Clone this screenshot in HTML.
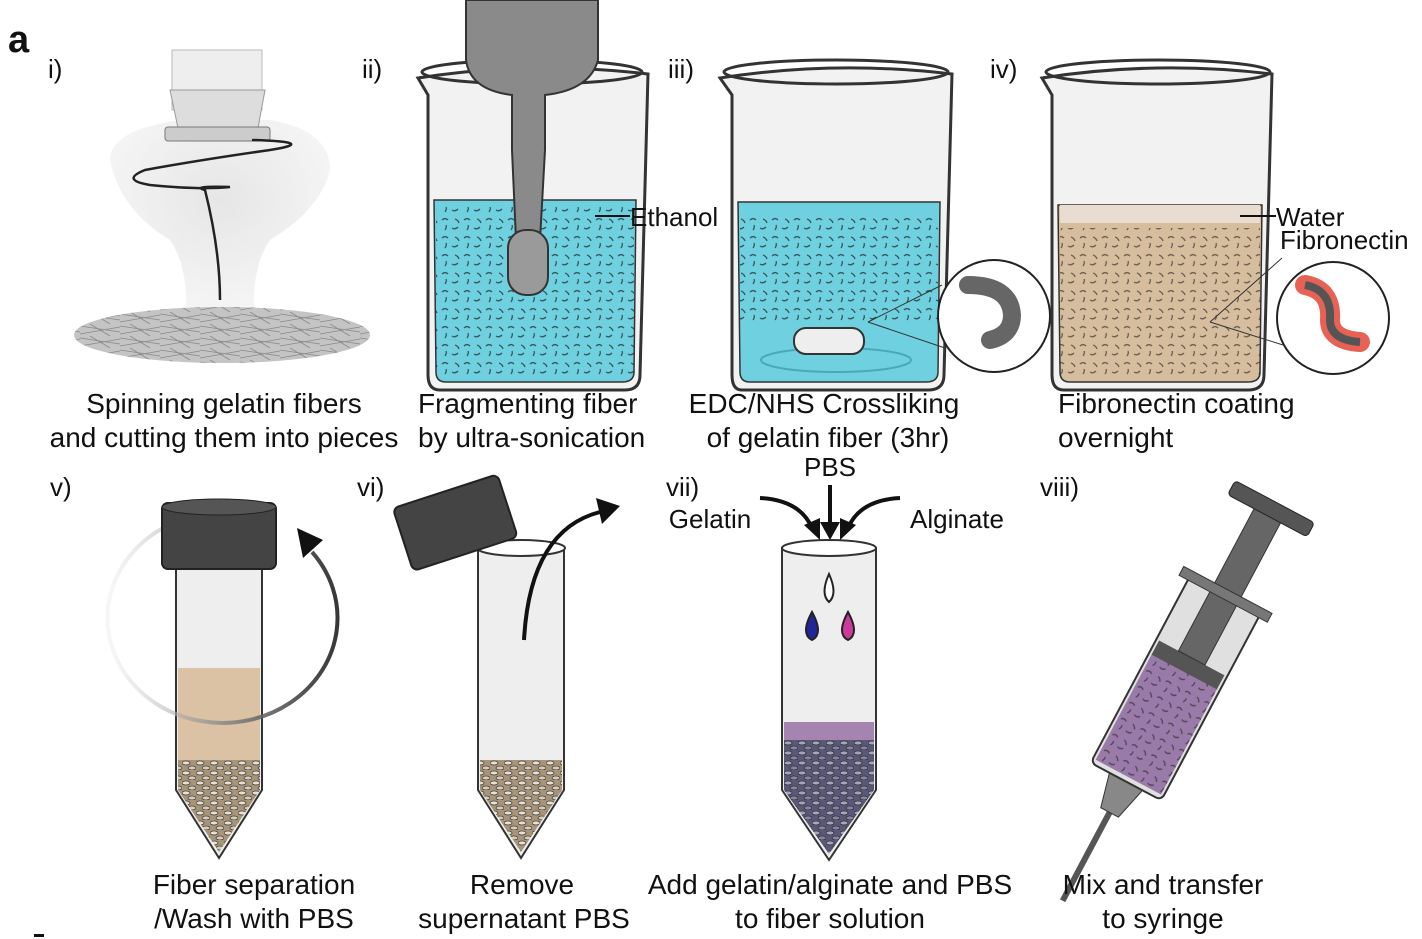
<!DOCTYPE html>
<html><head><meta charset="utf-8"><style>
html,body{margin:0;padding:0;background:#fff;}
svg{display:block;}
text{font-family:"Liberation Sans",Arial,sans-serif;fill:#111;}
</style></head><body>
<svg width="1422" height="939" viewBox="0 0 1422 939">
<defs>
<radialGradient id="glow" cx="0.5" cy="0.4" r="0.6"><stop offset="0" stop-color="#e6e6e6"/><stop offset="1" stop-color="#f6f6f6"/></radialGradient>
<linearGradient id="arcg" gradientUnits="userSpaceOnUse" x1="110" y1="0" x2="340" y2="0"><stop offset="0" stop-color="#ddd" stop-opacity="0.3"/><stop offset="0.5" stop-color="#888"/><stop offset="1" stop-color="#111"/></linearGradient>
<pattern id="fib" width="22" height="18" patternUnits="userSpaceOnUse"><path d="M2 4 q3 -3 6 0 M12 12 q3 2 6 -1 M5 14 q2 -3 1 -5 M15 3 q3 1 4 4" stroke="#222" stroke-width="1.3" fill="none"/></pattern>
<pattern id="hair" width="40" height="12" patternUnits="userSpaceOnUse"><path d="M0 2 L40 8 M0 10 L40 3 M10 0 L30 12" stroke="#888" stroke-width="0.8" fill="none"/></pattern>
<pattern id="chips" width="14" height="10" patternUnits="userSpaceOnUse"><rect width="14" height="10" fill="#a89478"/><ellipse cx="4" cy="3" rx="4" ry="2" fill="#e8e0d0" stroke="#444" stroke-width="0.8"/><ellipse cx="10" cy="8" rx="4" ry="2" fill="#d8ccb8" stroke="#444" stroke-width="0.8"/></pattern>
<pattern id="chipsp" width="14" height="10" patternUnits="userSpaceOnUse"><rect width="14" height="10" fill="#5a5878"/><ellipse cx="4" cy="3" rx="4" ry="2" fill="#a8a4c0" stroke="#333" stroke-width="0.8"/><ellipse cx="10" cy="8" rx="4" ry="2" fill="#8884a8" stroke="#333" stroke-width="0.8"/></pattern>
</defs>

<text x="8" y="52" font-size="38" font-weight="bold">a</text>

<g font-size="26">
<text x="48" y="78">i)</text><text x="362" y="78">ii)</text><text x="668" y="78">iii)</text><text x="990" y="78">iv)</text>
<text x="50" y="496">v)</text><text x="357" y="496">vi)</text><text x="666" y="496">vii)</text><text x="1040" y="496">viii)</text>
</g>

<g>
<path d="M110 160 Q110 130 180 120 L270 120 Q330 130 330 170 Q320 210 270 240 Q250 270 255 320 L185 320 Q190 270 170 240 Q120 210 110 160Z" fill="url(#glow)"/>
<rect x="172" y="50" width="90" height="60" fill="#eee" stroke="#bbb"/>
<path d="M170 90 L265 90 L258 128 L178 128Z" fill="#ddd" stroke="#999"/>
<rect x="165" y="127" width="105" height="14" rx="3" fill="#ccc" stroke="#777"/>
<path d="M252 140 Q320 142 270 150 Q200 160 145 170 Q120 180 150 185 Q200 190 230 187 Q190 186 205 190 Q220 250 220 300" stroke="#222" stroke-width="2.5" fill="none"/>
<ellipse cx="222" cy="335" rx="148" ry="28" fill="#c4c4c4"/>
<ellipse cx="222" cy="335" rx="148" ry="28" fill="url(#hair)"/>
</g>

<g>
<path d="M418 78 Q530 60 648 74 L640 375 Q640 390 625 390 L440 390 Q428 390 428 375 L428 95Z" fill="#f2f2f2" stroke="#333" stroke-width="3"/>
<path d="M434 200 L636 200 L634 372 Q634 382 622 382 L446 382 Q436 382 436 372Z" fill="#6fd0e0" stroke="#333" stroke-width="1.5"/>
<rect x="436" y="205" width="198" height="175" fill="url(#fib)" opacity="0.7"/>
<ellipse cx="532" cy="72" rx="110" ry="12" fill="none" stroke="#333" stroke-width="3"/>
<path d="M466 0 L598 0 L598 60 Q590 90 545 95 L545 150 L540 240 L516 240 L512 150 L512 95 Q470 90 466 60Z" fill="#8a8a8a" stroke="#333" stroke-width="2"/>
<rect x="508" y="230" width="40" height="65" rx="18" fill="#9a9a9a" stroke="#333" stroke-width="2"/>
<line x1="595" y1="216" x2="630" y2="216" stroke="#111" stroke-width="2"/>
</g>
<text x="630" y="226" font-size="26">Ethanol</text>

<g>
<path d="M720 78 Q835 60 952 74 L944 375 Q944 390 928 390 L742 390 Q732 390 732 375 L732 95Z" fill="#f2f2f2" stroke="#333" stroke-width="3"/>
<path d="M738 202 L940 202 L938 372 Q938 382 926 382 L750 382 Q740 382 740 372Z" fill="#6fd0e0" stroke="#333" stroke-width="1.5"/>
<rect x="740" y="215" width="198" height="110" fill="url(#fib)" opacity="0.7"/>
<ellipse cx="836" cy="360" rx="75" ry="12" fill="none" stroke="#4aa8b8" stroke-width="2"/>
<rect x="794" y="328" width="70" height="26" rx="12" fill="#eee" stroke="#333" stroke-width="2"/>
<ellipse cx="836" cy="72" rx="112" ry="12" fill="none" stroke="#333" stroke-width="3"/>
<circle cx="994" cy="316" r="56" fill="#fff" stroke="#222" stroke-width="2"/>
<path d="M968 285 Q1010 285 1012 315 Q1012 335 990 340" stroke="#666" stroke-width="18" fill="none" stroke-linecap="round"/>
<line x1="868" y1="322" x2="942" y2="285" stroke="#333"/><line x1="868" y1="322" x2="945" y2="348" stroke="#333"/>
</g>

<g>
<path d="M1042 78 Q1156 60 1272 74 L1264 375 Q1264 390 1248 390 L1064 390 Q1052 390 1052 375 L1052 95Z" fill="#f2f2f2" stroke="#333" stroke-width="3"/>
<path d="M1058 205 L1262 205 L1260 372 Q1260 382 1248 382 L1070 382 Q1060 382 1060 372Z" fill="#d5bd9e" stroke="#333" stroke-width="1.5"/>
<rect x="1060" y="205" width="200" height="18" fill="#e8ddd0"/>
<rect x="1060" y="228" width="200" height="150" fill="url(#fib)" opacity="0.6"/>
<ellipse cx="1158" cy="72" rx="112" ry="12" fill="none" stroke="#333" stroke-width="3"/>
<circle cx="1333" cy="318" r="56" fill="#fff" stroke="#222" stroke-width="2"/>
<path d="M1305 285 Q1332 290 1330 320 Q1330 340 1360 342" stroke="#e23a2a" stroke-width="20" fill="none" stroke-linecap="round" opacity="0.8"/>
<path d="M1305 285 Q1332 290 1330 320 Q1330 340 1360 342" stroke="#555" stroke-width="8" fill="none"/>
<line x1="1240" y1="216" x2="1276" y2="216" stroke="#111" stroke-width="2"/>
<line x1="1210" y1="322" x2="1282" y2="258" stroke="#333"/><line x1="1210" y1="322" x2="1283" y2="345" stroke="#333"/>
</g>
<text x="1276" y="226" font-size="26">Water</text>
<text x="1280" y="249" font-size="26">Fibronectin</text>

<g font-size="28">
<text x="224" y="413" text-anchor="middle">Spinning gelatin fibers</text>
<text x="224" y="447" text-anchor="middle">and cutting them into pieces</text>
<text x="418" y="413">Fragmenting fiber</text>
<text x="418" y="447">by ultra-sonication</text>
<text x="824" y="413" text-anchor="middle">EDC/NHS Crossliking</text>
<text x="828" y="447" text-anchor="middle">of gelatin fiber (3hr)</text>
<text x="1058" y="413">Fibronectin coating</text>
<text x="1058" y="447">overnight</text>
</g>

<g>
<path d="M176 565 L262 565 L262 790 L219 858 L176 790Z" fill="#eee" stroke="#333" stroke-width="2"/>
<rect x="178" y="668" width="82" height="92" fill="#dcc2a4"/>
<path d="M178 760 L260 760 L260 790 L219 852 L178 790Z" fill="url(#chips)"/>
<path d="M165 527 A115 105 0 1 0 312 552" fill="none" stroke="url(#arcg)" stroke-width="4" opacity="0.85"/>
<rect x="162" y="503" width="114" height="66" rx="6" fill="#444" stroke="#222" stroke-width="2"/>
<ellipse cx="219" cy="507" rx="57" ry="8" fill="#555" stroke="#222"/>
<path d="M297 528 L323 540 L303 558Z" fill="#111"/>
</g>

<g>
<path d="M478 548 L564 548 L564 790 L521 858 L478 790Z" fill="#eee" stroke="#333" stroke-width="2"/>
<ellipse cx="521" cy="548" rx="44" ry="8" fill="#fff" stroke="#333" stroke-width="2"/>
<path d="M480 760 L562 760 L562 790 L521 852 L480 790Z" fill="url(#chips)"/>
<g transform="rotate(-18 454 522)"><rect x="400" y="490" width="110" height="66" rx="6" fill="#444" stroke="#222" stroke-width="2"/></g>
<path d="M524 640 Q530 530 600 512" stroke="#111" stroke-width="4" fill="none"/>
<path d="M596 498 L620 506 L602 524Z" fill="#111"/>
</g>

<text x="830" y="476" font-size="26" text-anchor="middle">PBS</text>
<text x="710" y="528" font-size="26" text-anchor="middle">Gelatin</text>
<text x="957" y="528" font-size="26" text-anchor="middle">Alginate</text>
<g>
<path d="M760 498 Q800 500 812 528" stroke="#111" stroke-width="4" fill="none"/><path d="M804 525 L820 540 L820 518Z" fill="#111"/>
<line x1="830" y1="485" x2="830" y2="525" stroke="#111" stroke-width="4"/><path d="M820 522 L840 522 L830 540Z" fill="#111"/>
<path d="M900 498 Q860 500 848 528" stroke="#111" stroke-width="4" fill="none"/><path d="M856 525 L840 540 L840 518Z" fill="#111"/>
<path d="M782 548 L876 548 L876 790 L829 860 L782 790Z" fill="#eee" stroke="#333" stroke-width="2"/>
<ellipse cx="829" cy="548" rx="47" ry="8" fill="#fff" stroke="#333" stroke-width="2"/>
<rect x="784" y="722" width="90" height="36" fill="#a584b0"/>
<path d="M784 740 L874 740 L874 790 L829 854 L784 790Z" fill="url(#chipsp)"/>
<path d="M829 574 Q820 594 829 602 Q838 594 829 574Z" fill="#fff" stroke="#222" stroke-width="2"/>
<path d="M812 612 Q800 634 812 640 Q824 634 812 612Z" fill="#22259a" stroke="#222" stroke-width="2"/>
<path d="M848 612 Q836 634 848 640 Q860 634 848 612Z" fill="#cc3a9a" stroke="#222" stroke-width="2"/>
</g>

<g transform="rotate(28 1180 680)">
<line x1="1180" y1="830" x2="1180" y2="930" stroke="#555" stroke-width="6"/>
<path d="M1160 790 L1200 790 L1190 830 L1170 830Z" fill="#888" stroke="#333"/>
<rect x="1140" y="580" width="80" height="215" rx="6" fill="#e0e0e0" stroke="#333" stroke-width="2"/>
<rect x="1143" y="670" width="74" height="120" fill="#9a7aa8"/>
<rect x="1143" y="670" width="74" height="120" fill="url(#fib)" opacity="0.6"/>
<rect x="1143" y="655" width="74" height="16" fill="#555"/>
<rect x="1165" y="490" width="30" height="165" fill="#666" stroke="#333"/>
<rect x="1135" y="478" width="90" height="16" rx="4" fill="#555" stroke="#222"/>
<rect x="1130" y="578" width="100" height="10" fill="#777" stroke="#333"/>
</g>

<g font-size="28">
<text x="254" y="894" text-anchor="middle">Fiber separation</text>
<text x="254" y="928" text-anchor="middle">/Wash with PBS</text>
<text x="522" y="894" text-anchor="middle">Remove</text>
<text x="524" y="928" text-anchor="middle">supernatant PBS</text>
<text x="830" y="894" text-anchor="middle">Add gelatin/alginate and PBS</text>
<text x="830" y="928" text-anchor="middle">to fiber solution</text>
<text x="1163" y="894" text-anchor="middle">Mix and transfer</text>
<text x="1163" y="928" text-anchor="middle">to syringe</text>
</g>
<rect x="34" y="934" width="10" height="3" fill="#111"/>
</svg>
</body></html>
